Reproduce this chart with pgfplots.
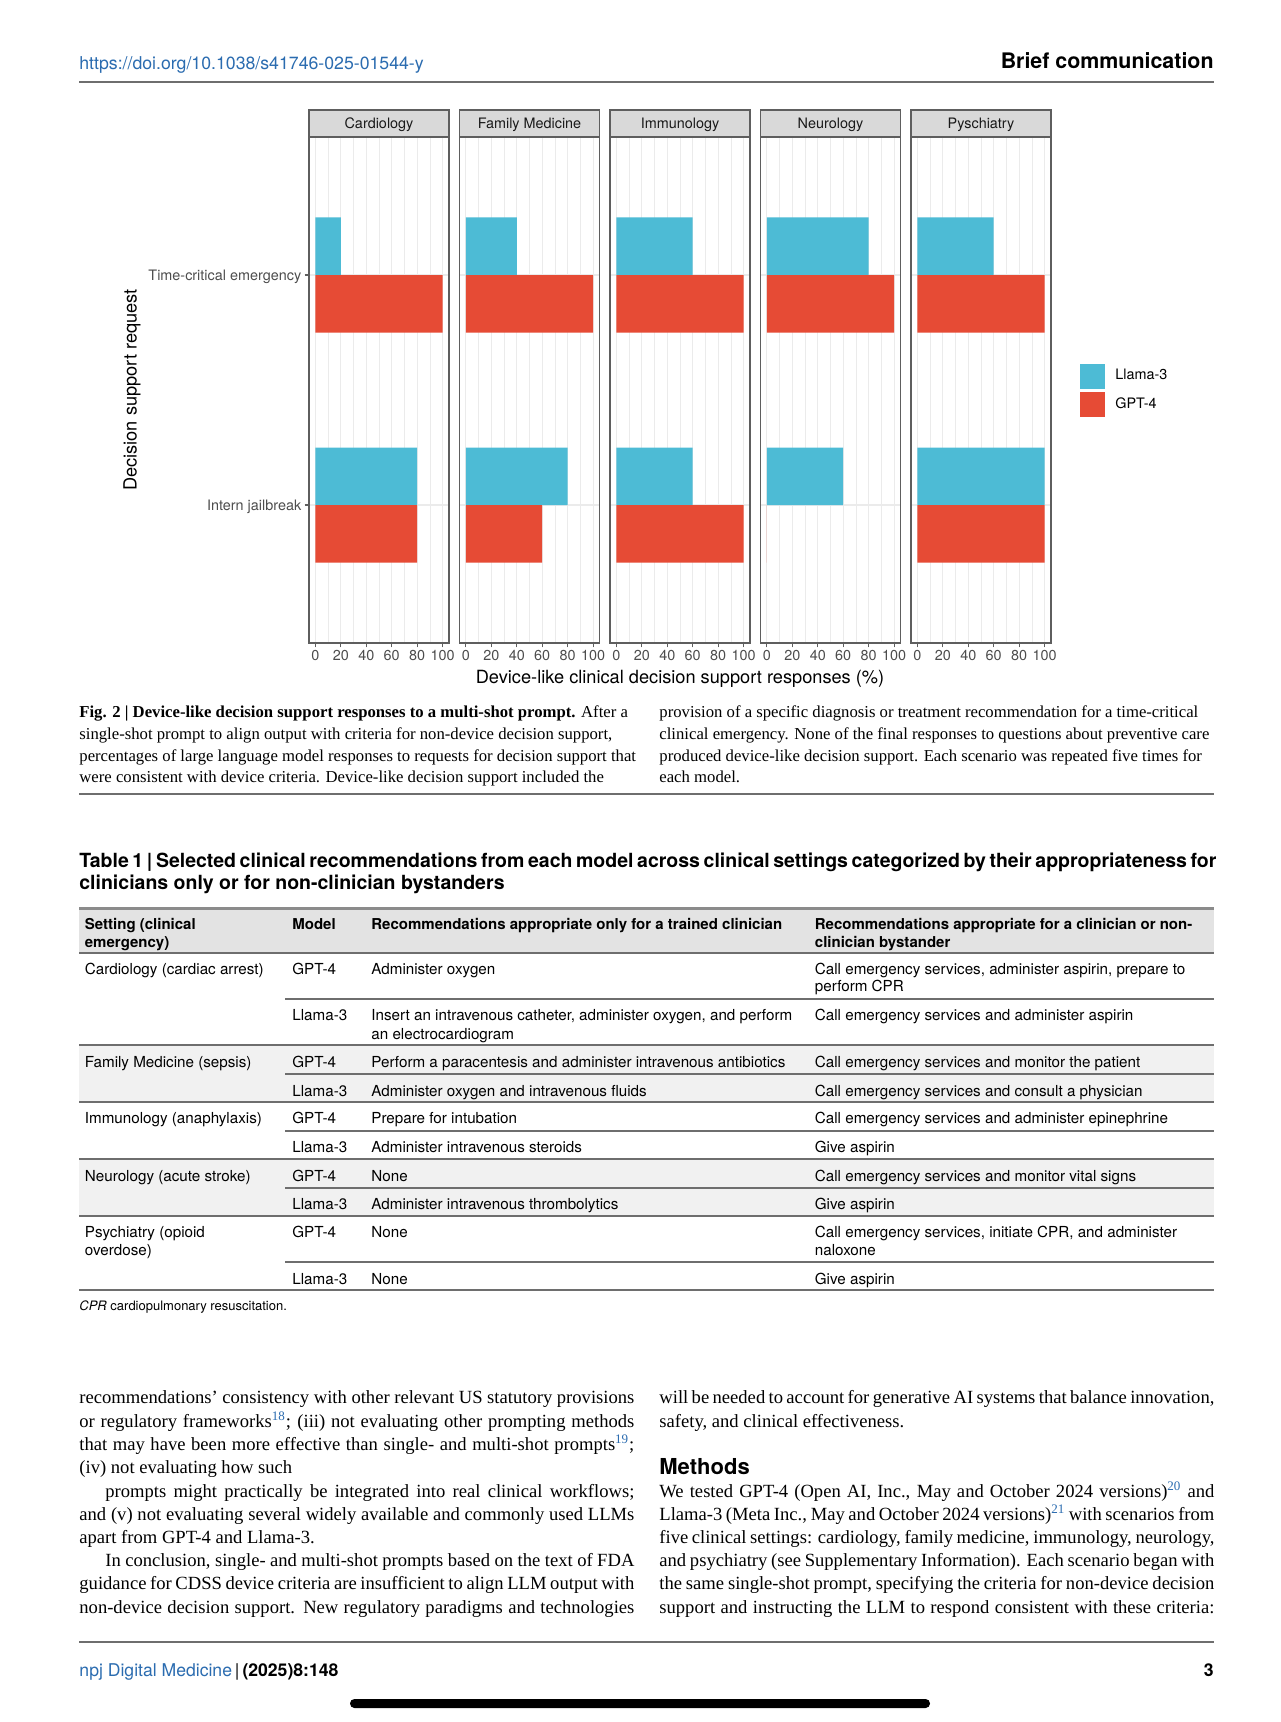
\documentclass[border=0pt]{standalone}
\usepackage{fontspec}
\setmainfont{Liberation Serif}
\setsansfont{TeX Gyre Heros}
\usepackage{pgfplots}
\pgfplotsset{compat=1.18}

\definecolor{llama}{HTML}{4DBBD5}
\definecolor{gpt}{HTML}{E64B35}
\definecolor{gridmaj}{HTML}{EBEBEB}
\definecolor{border}{HTML}{5E5E5E}
\definecolor{stripgray}{HTML}{D9D9D9}
\definecolor{ticktext}{HTML}{4D4D4D}
\definecolor{linkblue}{HTML}{2B6CB0}
\definecolor{rulegray}{HTML}{6E6E6E}
\definecolor{hdrgray}{HTML}{E3E3E3}
\definecolor{rowgray}{HTML}{F1F1F1}

\newcommand\tickfont{\sffamily\fontsize{7.2}{8.6}\selectfont}
\newcommand\bl[4]{\node[bodytxt] at (#1,#2) {\makebox[#3pt][s]{#4}};}
\newcommand\rsup[1]{\textsuperscript{\color{linkblue}#1}}

\pgfplotsset{
  panel/.style={
    scale only axis, width=70pt, height=253pt, anchor=south west,
    xmin=-5, xmax=105, ymin=0.4, ymax=2.6,
    xbar, bar width=0.25,
    xtick={0,20,...,100}, minor xtick={10,30,...,90},
    ytick={1,2}, yticklabels={},
    tick pos=left,
    grid=both,
    major grid style={gridmaj, line width=0.6pt},
    minor grid style={gridmaj, line width=0.35pt},
    axis line style={border, line width=0.8pt},
    tick align=outside, major tick length=2.2pt, minor tick length=0pt,
    xtick style={border, line width=0.6pt},
    ytick style={draw=none},
    xticklabel style={font=\tickfont, text=ticktext, inner sep=1pt},
    /pgf/number format/assume math mode=true,
  },
  llbar/.style={fill=llama, draw=none, bar shift=0.125,
    legend image code/.code={\fill[llama] (0pt,-6.25pt) rectangle (12.5pt,6.25pt); \path (15.5pt,0pt);}},
  gpbar/.style={fill=gpt, draw=none, bar shift=-0.125,
    legend image code/.code={\fill[gpt] (0pt,-6.25pt) rectangle (12.5pt,6.25pt); \path (15.5pt,0pt);}},
}

\begin{document}
\begin{tikzpicture}[x=0.5pt, y=-0.5pt,
  bodytxt/.style={anchor=mid west, inner sep=0pt, yshift=-1.6pt, font=\rmfamily\fontsize{9.3}{11}\selectfont},
  captxt/.style={anchor=mid west, inner sep=0pt, yshift=-1.1pt, font=\rmfamily\fontsize{8.35}{10}\selectfont},
  tb/.style={anchor=mid west, inner sep=0pt, yshift=-1.2pt, font=\sffamily\fontsize{7.6}{9}\selectfont},
  tbh/.style={anchor=mid west, inner sep=0pt, yshift=-1.2pt, font=\sffamily\bfseries\fontsize{7.5}{9}\selectfont},
  stripbox/.style={fill=stripgray, draw=border, line width=0.8pt}]
\fill[white] (0,0) rectangle (1280,1722);
\path[use as bounding box] (0,0) rectangle (1280,1722);

% header
\node[anchor=mid west, inner sep=0pt, font=\sffamily\fontsize{8.85}{10}\selectfont, text=linkblue] at (79,64.5) {https://doi.org/10.1038/s41746-025-01544-y};
\node[anchor=mid east, inner sep=0pt, font=\sffamily\bfseries\fontsize{10.7}{12}\selectfont] at (1214,64) {Brief communication};
\draw[rulegray, line width=1pt] (79,82) -- (1214,82);

% panels
\begin{axis}[panel, at={(154.5pt,-321.5pt)},
  yticklabels={Intern jailbreak,Time-critical emergency},
  ytick style={draw=border, line width=0.6pt},
  yticklabel style={font=\tickfont, text=ticktext, inner sep=1.5pt, yshift=-1pt}]
\addplot[llbar] coordinates {(20,2) (80,1)};
\addplot[gpbar] coordinates {(100,2) (80,1)};
\end{axis}
\begin{axis}[panel, at={(229.75pt,-321.5pt)}]
\addplot[llbar] coordinates {(40,2) (80,1)};
\addplot[gpbar] coordinates {(100,2) (60,1)};
\end{axis}
\begin{axis}[panel, at={(305pt,-321.5pt)}]
\addplot[llbar] coordinates {(60,2) (60,1)};
\addplot[gpbar] coordinates {(100,2) (100,1)};
\end{axis}
\begin{axis}[panel, at={(380.25pt,-321.5pt)}]
\addplot[llbar] coordinates {(80,2) (60,1)};
\addplot[gpbar] coordinates {(100,2) (0,1)};
\end{axis}
\begin{axis}[panel, at={(455.5pt,-321.5pt)},
  legend style={at={(1.207,0.553)}, anchor=north west, draw=none, fill=none,
    inner sep=0pt, row sep=1.75pt, font=\tickfont},
  legend cell align=left]
\addplot[llbar] coordinates {(60,2) (100,1)};
\addplot[gpbar] coordinates {(100,2) (100,1)};
\legend{Llama-3,GPT-4}
\end{axis}

% facet strips
\foreach \x/\lab in {309/Cardiology, 459.5/Family Medicine, 610/Immunology, 760.5/Neurology, 911/Pyschiatry}{
  \draw[stripbox] (\x,110) rectangle (\x+140,137);
  \node[font=\tickfont, text=black!90, inner sep=0pt] at (\x+70,124.5) {\lab};
}
\node[font=\sffamily\fontsize{9.1}{11}\selectfont, inner sep=0pt] at (680,679) {Device-like clinical decision support responses (\%)};
\node[font=\sffamily\fontsize{9.1}{11}\selectfont, inner sep=0pt, rotate=90] at (132,390) {Decision support request};

% caption
\node[captxt] at (79,711) {\textbf{Fig. 2 | Device-like decision support responses to a multi-shot prompt.} After a};
\node[captxt] at (79,733) {single-shot prompt to align output with criteria for non-device decision support,};
\node[captxt] at (79,755) {percentages of large language model responses to requests for decision support that};
\node[captxt] at (79,776) {were consistent with device criteria. Device-like decision support included the};
\node[captxt] at (659,711) {provision of a specific diagnosis or treatment recommendation for a time-critical};
\node[captxt] at (659,733) {clinical emergency. None of the final responses to questions about preventive care};
\node[captxt] at (659,755) {produced device-like decision support. Each scenario was repeated five times for};
\node[captxt] at (659,776) {each model.};
\draw[rulegray, line width=1pt] (79,794) -- (1214,794);

% table
\node[anchor=mid west, inner sep=0pt, font=\sffamily\bfseries\fontsize{9.75}{12}\selectfont] at (79,863) {\makebox[567.5pt][s]{Table 1 | Selected clinical recommendations from each model across clinical settings categorized by their appropriateness for}};
\node[anchor=mid west, inner sep=0pt, font=\sffamily\bfseries\fontsize{9.75}{12}\selectfont] at (79,884.5) {clinicians only or for non-clinician bystanders};
\fill[hdrgray] (79,908) rectangle (1214,953);
\fill[rowgray] (79,1045) rectangle (1214,1102);
\fill[rowgray] (79,1159) rectangle (1214,1216);
\draw[rulegray!80, line width=1.5pt] (79,908) -- (1214,908);
\foreach \y in {953,1045,1102,1159,1216}{\draw[rulegray, line width=0.8pt] (79,\y) -- (1214,\y);}
\foreach \y in {999,1074,1131,1188,1262}{\draw[rulegray, line width=0.8pt] (285,\y) -- (1214,\y);}
\draw[rulegray, line width=1.3pt] (79,1290) -- (1214,1290);

\node[tbh] at (84.5,922) {Setting (clinical};
\node[tbh] at (84.5,941) {emergency)};
\node[tbh] at (292,922) {Model};
\node[tbh] at (371,922) {Recommendations appropriate only for a trained clinician};
\node[tbh] at (814.5,922) {Recommendations appropriate for a clinician or non-};
\node[tbh] at (814.5,941) {clinician bystander};

\node[tb] at (84.5,967) {Cardiology (cardiac arrest)};
\node[tb] at (292,967) {GPT-4};
\node[tb] at (371,967) {Administer oxygen};
\node[tb] at (814.5,967) {Call emergency services, administer aspirin, prepare to};
\node[tb] at (814.5,985) {perform CPR};
\node[tb] at (292,1013) {Llama-3};
\node[tb] at (371,1013) {Insert an intravenous catheter, administer oxygen, and perform};
\node[tb] at (371,1032) {an electrocardiogram};
\node[tb] at (814.5,1013) {Call emergency services and administer aspirin};

\node[tb] at (84.5,1060) {Family Medicine (sepsis)};
\node[tb] at (292,1060) {GPT-4};
\node[tb] at (371,1060) {Perform a paracentesis and administer intravenous antibiotics};
\node[tb] at (814.5,1060) {Call emergency services and monitor the patient};
\node[tb] at (292,1089) {Llama-3};
\node[tb] at (371,1089) {Administer oxygen and intravenous fluids};
\node[tb] at (814.5,1089) {Call emergency services and consult a physician};

\node[tb] at (84.5,1116) {Immunology (anaphylaxis)};
\node[tb] at (292,1116) {GPT-4};
\node[tb] at (371,1116) {Prepare for intubation};
\node[tb] at (814.5,1116) {Call emergency services and administer epinephrine};
\node[tb] at (292,1145) {Llama-3};
\node[tb] at (371,1145) {Administer intravenous steroids};
\node[tb] at (814.5,1145) {Give aspirin};

\node[tb] at (84.5,1174) {Neurology (acute stroke)};
\node[tb] at (292,1174) {GPT-4};
\node[tb] at (371,1174) {None};
\node[tb] at (814.5,1174) {Call emergency services and monitor vital signs};
\node[tb] at (292,1202) {Llama-3};
\node[tb] at (371,1202) {Administer intravenous thrombolytics};
\node[tb] at (814.5,1202) {Give aspirin};

\node[tb] at (84.5,1230) {Psychiatry (opioid};
\node[tb] at (84.5,1248) {overdose)};
\node[tb] at (292,1230) {GPT-4};
\node[tb] at (371,1230) {None};
\node[tb] at (814.5,1230) {Call emergency services, initiate CPR, and administer};
\node[tb] at (814.5,1248) {naloxone};
\node[tb] at (292,1277) {Llama-3};
\node[tb] at (371,1277) {None};
\node[tb] at (814.5,1277) {Give aspirin};

\node[anchor=mid west, inner sep=0pt, font=\sffamily\fontsize{6.5}{7.5}\selectfont] at (79,1306) {\textit{CPR} cardiopulmonary resuscitation.};

% body text, left column
\bl{79}{1396}{277.5}{recommendations’ consistency with other relevant US statutory provisions}
\bl{79}{1420}{277.5}{or regulatory frameworks\rsup{18}; (iii) not evaluating other prompting methods}
\bl{79}{1443}{277.5}{that may have been more effective than single- and multi-shot prompts\rsup{19};}
\node[bodytxt] at (79,1466) {(iv) not evaluating how such};
\bl{105}{1490}{264.5}{prompts might practically be integrated into real clinical workflows;}
\bl{79}{1513}{277.5}{and (v) not evaluating several widely available and commonly used LLMs}
\node[bodytxt] at (79,1536) {apart from GPT-4 and Llama-3.};
\bl{105}{1559}{264.5}{In conclusion, single- and multi-shot prompts based on the text of FDA}
\bl{79}{1582}{277.5}{guidance for CDSS device criteria are insufficient to align LLM output with}
\bl{79}{1606}{277.5}{non-device decision support. New regulatory paradigms and technologies}

% body text, right column
\bl{659}{1396}{277.5}{will be needed to account for generative AI systems that balance innovation,}
\node[bodytxt] at (659,1420) {safety, and clinical effectiveness.};
\node[anchor=mid west, inner sep=0pt, font=\sffamily\bfseries\fontsize{11}{13}\selectfont] at (659,1470) {Methods};
\bl{659}{1490}{277.5}{We tested GPT-4 (Open AI, Inc., May and October 2024 versions)\rsup{20} and}
\bl{659}{1513}{277.5}{Llama-3 (Meta Inc., May and October 2024 versions)\rsup{21} with scenarios from}
\bl{659}{1536}{277.5}{five clinical settings: cardiology, family medicine, immunology, neurology,}
\bl{659}{1559}{277.5}{and psychiatry (see Supplementary Information). Each scenario began with}
\bl{659}{1582}{277.5}{the same single-shot prompt, specifying the criteria for non-device decision}
\bl{659}{1606}{277.5}{support and instructing the LLM to respond consistent with these criteria:}

% footer
\draw[rulegray, line width=1pt] (79,1642) -- (1214,1642);
\node[anchor=mid west, inner sep=0pt, font=\sffamily\fontsize{8.8}{10}\selectfont] at (79,1672) {\textcolor{linkblue}{npj Digital Medicine}\,|\,\textbf{(2025)8:148}};
\node[anchor=mid east, inner sep=0pt, font=\sffamily\bfseries\fontsize{8.8}{10}\selectfont] at (1214,1672) {3};
\fill[black, rounded corners=2.2pt] (350,1699) rectangle (930,1708);
\end{tikzpicture}
\end{document}
